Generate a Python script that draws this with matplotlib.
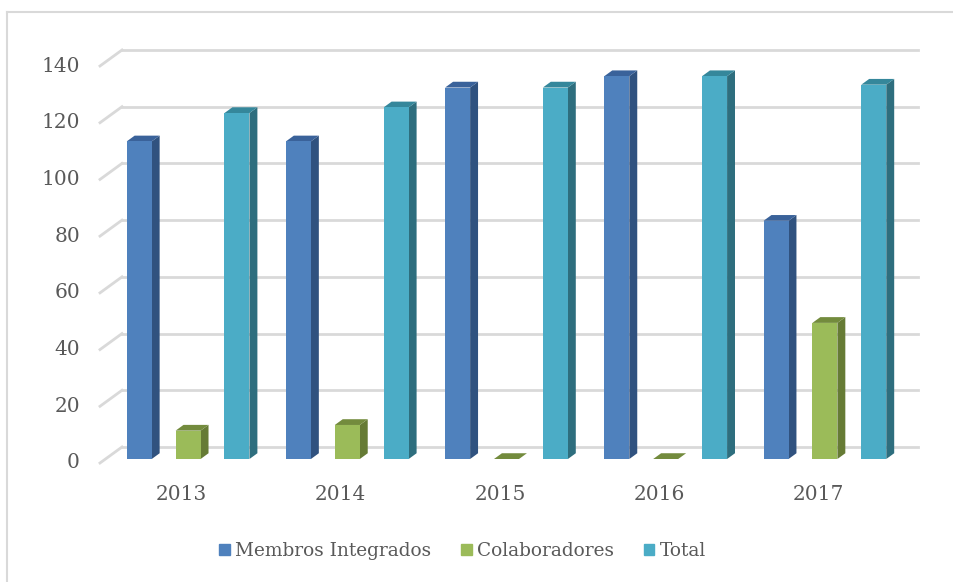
import matplotlib
matplotlib.use('Agg')
import matplotlib.pyplot as plt
from matplotlib.patches import Polygon, Patch
from matplotlib.lines import Line2D

years = ['2013', '2014', '2015', '2016', '2017']
membros = [112, 112, 131, 135, 84]
colaboradores = [10, 12, 0, 0, 48]
total = [122, 124, 131, 135, 132]
yticks = [0, 20, 40, 60, 80, 100, 120, 140]

series = [
    ('Membros Integrados', membros, '#4F81BD', '#30527F', '#3A629A', -0.307),
    ('Colaboradores', colaboradores, '#9BBB59', '#667B35', '#738B3D', 0.0),
    ('Total', total, '#4BACC6', '#2E6E7E', '#35879B', 0.307),
]

W, H = 954, 582
fig = plt.figure(figsize=(W / 100, H / 100), dpi=100)
plt.rcParams['font.family'] = ['DejaVu Serif']
txt_c = '#595959'

# front plane of the 3d box, in pixels
left, right, y0, y140 = 100, 896, 463, 66
ax = fig.add_axes([left / W, (H - y0) / H, (right - left) / W, (y0 - y140) / H])
ax.set_xlim(-0.5, 4.5)
ax.set_ylim(0, 140)
ax.axis('off')

# depth of the box (22px right, 16px up) in data units
px_x = (right - left) / 5
px_y = (y0 - y140) / 140
dx = 22 / px_x
dy = 16 / px_y
f0 = 0.25   # where bars start in depth
t = 0.36    # bar thickness in depth

grid_c = '#D9D9D9'
for v in yticks:
    ax.add_line(Line2D([-0.5 + dx, 4.5 + dx], [v + dy, v + dy], color=grid_c, lw=2, clip_on=False, zorder=1))
    ax.add_line(Line2D([-0.5, -0.5 + dx], [v, v + dy], color=grid_c, lw=2, clip_on=False, zorder=1))
    ax.text(-0.5 - 20 / px_x, v, str(v), ha='right', va='center', fontsize=14.5, color=txt_c)

for i, y in enumerate(years):
    ax.text(i + 2 / px_x, -32 / px_y, y, ha='center', va='center', fontsize=14.5, color=txt_c)

hw = 12.5 / px_x
sx, sy = f0 * dx + 3 / px_x, f0 * dy
for name, vals, front, side, top, off in series:
    xs = [i + off + sx for i in range(len(years))]
    ax.bar(xs, vals, width=2 * hw, bottom=sy, color=front, edgecolor='none', zorder=3)
    for x, v in zip(xs, vals):
        side_pts = [(x + hw, sy), (x + hw, sy + v), (x + hw + t * dx, sy + v + t * dy), (x + hw + t * dx, sy + t * dy)]
        top_pts = [(x - hw, sy + v), (x + hw, sy + v), (x + hw + t * dx, sy + v + t * dy), (x - hw + t * dx, sy + v + t * dy)]
        ax.add_patch(Polygon(side_pts, closed=True, color=side, lw=0, zorder=2.9, clip_on=False))
        ax.add_patch(Polygon(top_pts, closed=True, color=top, lw=0, zorder=2.9, clip_on=False))

handles = [Patch(color=s[2], label=s[0]) for s in series]
fig.legend(handles=handles, loc='center', bbox_to_anchor=(462.5 / W, (H - 551) / H), ncol=3, frameon=False,
           fontsize=13.3, labelcolor=txt_c, handlelength=0.58, handleheight=0.58, handletextpad=0.3,
           columnspacing=1.6)

# outer chart border (only left and top are inside the picture)
fig.add_artist(Line2D([7 / W, 7 / W], [0, (H - 12) / H], color=grid_c, lw=1.5))
fig.add_artist(Line2D([7 / W, 1], [(H - 12) / H, (H - 12) / H], color=grid_c, lw=1.5))

fig.savefig('out.png', dpi=100)
